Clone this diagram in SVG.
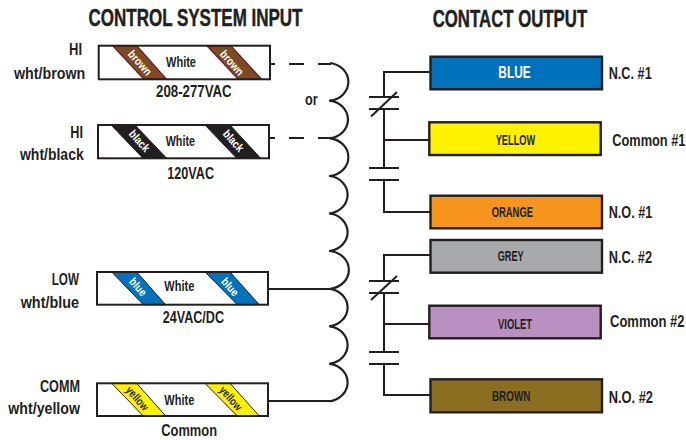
<svg xmlns="http://www.w3.org/2000/svg" width="686" height="440" viewBox="0 0 686 440">
<style>
text{font-family:"Liberation Sans",Arial,sans-serif;font-weight:700;fill:#231f20;}
.title{font-size:23px;stroke:#231f20;stroke-width:.45px}
.lab{font-size:16.5px}
.w{font-size:15px}
.tag{font-size:11.5px;font-weight:700}
.m{text-anchor:middle}
.frame{fill:none;stroke:#231f20;stroke-width:2}
.bg{fill:#fff}
.box{stroke:#231f20;stroke-width:2.4}
.wire{fill:none;stroke:#231f20;stroke-width:2;stroke-linejoin:miter}
.coil{fill:none;stroke:#231f20;stroke-width:2.2}
.s-brown{fill:#7c4a24;stroke:#6d1a1f;stroke-width:1.2}
.s-black{fill:#231f20;stroke:#231f20;stroke-width:1}
.s-blue{fill:#0071bc;stroke:#231f20;stroke-width:1}
.s-yellow{fill:#fff200;stroke:#231f20;stroke-width:1}
</style>

<text class="title" x="88.500" y="26" textLength="214" lengthAdjust="spacingAndGlyphs">CONTROL SYSTEM INPUT</text>
<text class="title" x="432.700" y="26.500" textLength="154.500" lengthAdjust="spacingAndGlyphs">CONTACT OUTPUT</text>

<g id="connectors">
<path class="wire" d="M270 64H275M289 64H304M318 64H331M270 138H275M289 138H304M318 138H331M268 289H331M268 401H331"/>
<path class="coil" d="M330 63A21 19 0 0 1 330 100.700A21 19 0 0 1 330 138.300A21 19 0 0 1 330 176A21 19 0 0 1 330 213.500A21 19 0 0 1 330 251A21 19 0 0 1 330 288.800A21 19 0 0 1 330 326.300A21 19 0 0 1 330 363.800A21 19 0 0 1 330 401.300"/>
<path class="wire" d="M329 100.700H332M329 176H332M329 213.500H332M329 251H332M329 326.300H332M329 363.800H332"/>
<path class="wire" d="M430 72H384V97M369 97H399M369 109H399M371 116.500L397 92M384 109V168M369 168H399M369 180H399M384 180V212H430M384 140H430"/>
<path class="wire" d="M430 255H384V281M369 281H399M369 293H399M371 300L397 276M384 293V352M369 352H399M369 364H399M384 364V395H430M384 324H430"/>
<text class="lab" x="305" y="105" textLength="12.700" lengthAdjust="spacingAndGlyphs">or</text>
</g>

<g id="input-hi-brown">
<rect class="bg" x="98.700" y="45.700" width="171.300" height="33.600"/>
<path class="s-brown" d="M112.500 45.700H136.700L166.700 79.300H144Z"/>
<path class="s-brown" d="M206.700 45.700H230.700L261.700 79.300H238.300Z"/>
<rect class="frame" x="98.700" y="45.700" width="171.300" height="33.600"/>
<text class="w" x="166" y="66.700" textLength="30" lengthAdjust="spacingAndGlyphs">White</text>
<text class="tag m" style="fill:#fff" transform="translate(137 65.500) rotate(48) scale(.85 1)">brown</text>
<text class="tag m" style="fill:#fff" transform="translate(229 65.500) rotate(48) scale(.85 1)">brown</text>
<text class="lab" x="69" y="55.300" textLength="13" lengthAdjust="spacingAndGlyphs">HI</text>
<text class="lab" x="14" y="78.700" textLength="71.300" lengthAdjust="spacingAndGlyphs">wht/brown</text>
<text class="lab" x="156" y="96.700" textLength="75.700" lengthAdjust="spacingAndGlyphs">208-277VAC</text>
</g>

<g id="input-hi-black">
<rect class="bg" x="98" y="125" width="171" height="33.300"/>
<path class="s-black" d="M111 125H135L166.700 158.300H143Z"/>
<path class="s-black" d="M205 125H230L260.700 158.300H236.700Z"/>
<rect class="frame" x="98" y="125" width="171" height="33.300"/>
<text class="w" x="165.700" y="145.700" textLength="29.300" lengthAdjust="spacingAndGlyphs">White</text>
<text class="tag m" style="fill:#fff" transform="translate(136.500 143.500) rotate(48) scale(.85 1)">black</text>
<text class="tag m" style="fill:#fff" transform="translate(230.500 143.500) rotate(48) scale(.85 1)">black</text>
<text class="lab" x="70.300" y="137.700" textLength="12.700" lengthAdjust="spacingAndGlyphs">HI</text>
<text class="lab" x="20" y="160.300" textLength="63.700" lengthAdjust="spacingAndGlyphs">wht/black</text>
<text class="lab" x="167.300" y="179" textLength="46.700" lengthAdjust="spacingAndGlyphs">120VAC</text>
</g>

<g id="input-low-blue">
<rect class="bg" x="97" y="272" width="171" height="32.700"/>
<path class="s-blue" d="M111.700 272H136.700L165.700 304.700H143.300Z"/>
<path class="s-blue" d="M205 272H230L259.300 304.700H237.300Z"/>
<rect class="frame" x="97" y="272" width="171" height="32.700"/>
<text class="w" x="164.300" y="290.700" textLength="30" lengthAdjust="spacingAndGlyphs">White</text>
<text class="tag m" style="fill:#fff" transform="translate(135.200 289.500) rotate(48) scale(.85 1)">blue</text>
<text class="tag m" style="fill:#fff" transform="translate(227.200 289.500) rotate(48) scale(.85 1)">blue</text>
<text class="lab" x="51.700" y="285" textLength="27.300" lengthAdjust="spacingAndGlyphs">LOW</text>
<text class="lab" x="20.700" y="308.300" textLength="58.300" lengthAdjust="spacingAndGlyphs">wht/blue</text>
<text class="lab" x="162.700" y="323.300" textLength="61.300" lengthAdjust="spacingAndGlyphs">24VAC/DC</text>
</g>

<g id="input-comm-yellow">
<rect class="bg" x="97" y="383.300" width="171" height="32.700"/>
<path class="s-yellow" d="M111.700 383.300H136.700L165.700 416H143.300Z"/>
<path class="s-yellow" d="M205 383.300H230L259.300 416H237.300Z"/>
<rect class="frame" x="97" y="383.300" width="171" height="32.700"/>
<text class="w" x="164.300" y="404.700" textLength="30" lengthAdjust="spacingAndGlyphs">White</text>
<text class="tag m" transform="translate(134.500 401) rotate(48) scale(.8 1)">yellow</text>
<text class="tag m" transform="translate(228 401) rotate(48) scale(.8 1)">yellow</text>
<text class="lab" x="40" y="392" textLength="40" lengthAdjust="spacingAndGlyphs">COMM</text>
<text class="lab" x="8.300" y="414.300" textLength="71.700" lengthAdjust="spacingAndGlyphs">wht/yellow</text>
<text class="lab" x="161.300" y="435.700" textLength="55.700" lengthAdjust="spacingAndGlyphs">Common</text>
</g>

<g id="output-blue">
<rect class="box" x="430.500" y="56.700" width="171.500" height="32.600" fill="#0071bc"/>
<text class="lab" style="fill:#fff" x="498.300" y="77.700" textLength="32.400" lengthAdjust="spacingAndGlyphs">BLUE</text>
<text class="lab" x="608.700" y="79.300" textLength="43" lengthAdjust="spacingAndGlyphs">N.C. #1</text>
</g>
<g id="output-yellow">
<rect class="box" x="429.300" y="122.300" width="171.400" height="32.700" fill="#fff200"/>
<text class="w" x="495.700" y="145" textLength="39.600" lengthAdjust="spacingAndGlyphs">YELLOW</text>
<text class="lab" transform="translate(612.300 145.700) scale(.775 1)">Common #1</text>
</g>
<g id="output-orange">
<rect class="box" x="430.500" y="195.700" width="171.500" height="32.600" fill="#f7941d"/>
<text class="w" x="491.700" y="217" textLength="41.300" lengthAdjust="spacingAndGlyphs">ORANGE</text>
<text class="lab" x="608.700" y="218.300" textLength="43.600" lengthAdjust="spacingAndGlyphs">N.O. #1</text>
</g>
<g id="output-grey">
<rect class="box" x="430.500" y="240" width="171.500" height="32.700" fill="#a7a9ac"/>
<text class="w" x="497.700" y="260.700" textLength="26" lengthAdjust="spacingAndGlyphs">GREY</text>
<text class="lab" x="608.700" y="262.700" textLength="43.300" lengthAdjust="spacingAndGlyphs">N.C. #2</text>
</g>
<g id="output-violet">
<rect class="box" x="429.300" y="305.700" width="171.400" height="32.600" fill="#b990c1"/>
<text class="w" x="498" y="329" textLength="34" lengthAdjust="spacingAndGlyphs">VIOLET</text>
<text class="lab" transform="translate(610 327.300) scale(.79 1)">Common #2</text>
</g>
<g id="output-brown">
<rect class="box" x="430.500" y="379.300" width="171.500" height="33" fill="#8b6e1f"/>
<text class="w" x="492" y="401" textLength="38.300" lengthAdjust="spacingAndGlyphs">BROWN</text>
<text class="lab" x="608.700" y="402.700" textLength="44.300" lengthAdjust="spacingAndGlyphs">N.O. #2</text>
</g>
</svg>
